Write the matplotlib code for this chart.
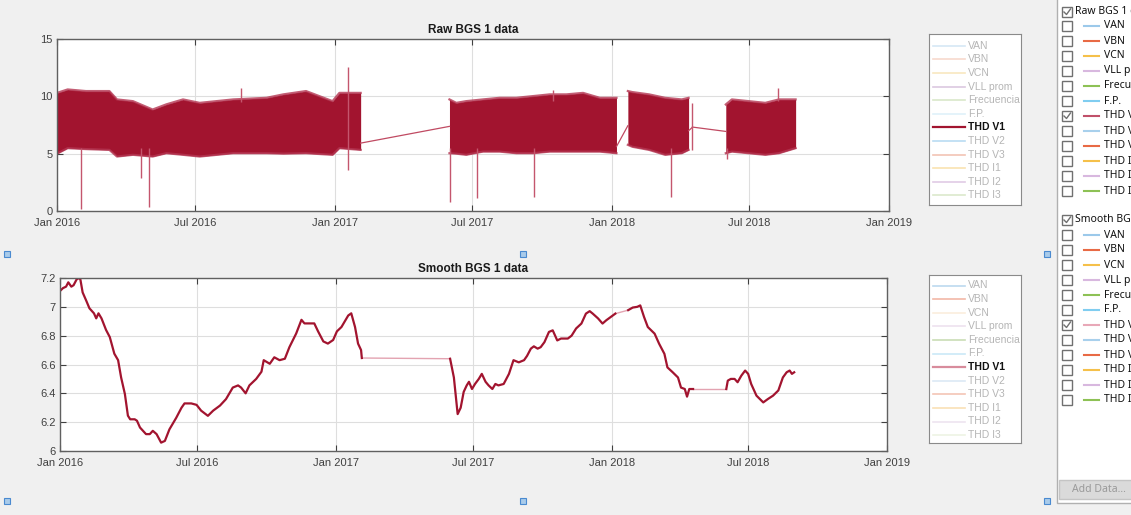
import numpy as np
import matplotlib.pyplot as plt
import matplotlib.dates as mdates
from matplotlib.patches import Rectangle

# ---- data ----
# raw THD V1: dense daily oscillation shown as its band (upper / lower envelope)
rawA_dates = ['2016-01-01', '2016-01-15', '2016-02-08', '2016-03-10', '2016-03-20', '2016-04-10',
              '2016-05-06', '2016-05-24', '2016-06-15', '2016-07-07', '2016-08-20', '2016-10-03',
              '2016-10-25', '2016-11-24', '2016-12-29', '2017-01-07', '2017-02-04']
rawA_up = [10.3, 10.6, 10.46, 10.46, 9.73, 9.58, 8.85, 9.3, 9.73, 9.43, 9.73, 9.87, 10.17, 10.46, 9.58, 10.3, 10.3]
rawA_lo = [5.0, 5.48, 5.4, 5.33, 4.75, 4.9, 4.75, 5.04, 4.9, 4.75, 5.04, 5.04, 5.0, 5.04, 4.9, 5.48, 5.33]

rawB_dates = ['2017-06-01', '2017-06-10', '2017-06-23', '2017-07-15', '2017-08-06', '2017-08-28',
              '2017-09-19', '2017-10-11', '2017-11-02', '2017-11-24', '2017-12-16', '2018-01-07']
rawB_up = [9.73, 9.43, 9.58, 9.73, 9.87, 9.87, 10.02, 10.17, 10.17, 10.3, 9.87, 9.87]
rawB_lo = [5.04, 5.0, 4.9, 5.18, 5.18, 5.04, 5.04, 5.18, 5.18, 5.18, 5.18, 5.04]

rawC_dates = ['2018-01-22', '2018-01-28', '2018-02-19', '2018-03-12', '2018-04-03', '2018-04-12']
rawC_up = [10.46, 10.37, 10.17, 9.87, 9.73, 9.87]
rawC_lo = [5.77, 5.6, 5.33, 4.9, 5.04, 5.33]

rawD_dates = ['2018-05-31', '2018-06-08', '2018-06-30', '2018-07-22', '2018-08-09', '2018-08-31']
rawD_up = [9.29, 9.73, 9.58, 9.43, 9.73, 9.73]
rawD_lo = [5.04, 5.18, 5.04, 4.9, 5.04, 5.48]

# straight interpolation lines across the gaps
raw_link_dates = ['2017-02-04', '2017-06-01', '2018-01-07', '2018-01-22', '2018-04-12', '2018-04-17',
                  '2018-04-17', '2018-05-31']
raw_link_vals = [5.92, 7.38, 5.62, 7.44, 7.0, 7.3, 7.32, 6.94]

# isolated spikes: date, low end, high end
spike_dates = ['2016-02-02', '2016-04-20', '2016-05-01', '2016-08-31', '2017-01-18', '2017-06-02',
               '2017-07-07', '2017-09-20', '2017-10-16', '2018-03-20', '2018-04-17', '2018-06-02',
               '2018-08-08']
spike_lo = [0.2, 2.84, 0.35, 9.5, 3.57, 0.79, 1.17, 1.23, 9.6, 1.23, 5.33, 4.5, 9.6]
spike_hi = [5.5, 5.5, 5.5, 10.7, 12.57, 5.5, 5.5, 5.5, 10.55, 5.5, 9.43, 5.5, 10.75]

# smoothed THD V1
sm1_dates = ['2016-01-01', '2016-01-05', '2016-01-09', '2016-01-12', '2016-01-16', '2016-01-19',
             '2016-01-23', '2016-01-26', '2016-01-28', '2016-01-31', '2016-02-05', '2016-02-09',
             '2016-02-15', '2016-02-18', '2016-02-21', '2016-02-25', '2016-03-02', '2016-03-07',
             '2016-03-13', '2016-03-18', '2016-03-22', '2016-03-27', '2016-03-31', '2016-04-03',
             '2016-04-09', '2016-04-12', '2016-04-16', '2016-04-24', '2016-04-29', '2016-05-03',
             '2016-05-08', '2016-05-14', '2016-05-19', '2016-05-25', '2016-06-03', '2016-06-10',
             '2016-06-14', '2016-06-23', '2016-06-30', '2016-07-06', '2016-07-15', '2016-07-22',
             '2016-07-31', '2016-08-08', '2016-08-17', '2016-08-24', '2016-08-28', '2016-09-03',
             '2016-09-08', '2016-09-17', '2016-09-24', '2016-09-27', '2016-10-05', '2016-10-11',
             '2016-10-18', '2016-10-25', '2016-10-31', '2016-11-09', '2016-11-16', '2016-11-20',
             '2016-11-29', '2016-12-03', '2016-12-08', '2016-12-15', '2016-12-21', '2016-12-28',
             '2017-01-02', '2017-01-08', '2017-01-17', '2017-01-21', '2017-01-26', '2017-01-30',
             '2017-02-03', '2017-02-04']
sm1_vals = [7.11, 7.13, 7.14, 7.17, 7.14, 7.15, 7.19, 7.2, 7.19, 7.10, 7.04, 6.99,
            6.955, 6.92, 6.955, 6.92, 6.84, 6.79, 6.675, 6.63, 6.51, 6.395, 6.245, 6.22,
            6.22, 6.21, 6.163, 6.117, 6.117, 6.14, 6.117, 6.058, 6.07, 6.15, 6.23, 6.30,
            6.33, 6.33, 6.32, 6.28, 6.244, 6.28, 6.315, 6.36, 6.44, 6.455, 6.44, 6.40,
            6.455, 6.50, 6.55, 6.63, 6.605, 6.65, 6.63, 6.64, 6.72, 6.815, 6.91, 6.885,
            6.885, 6.885, 6.83, 6.76, 6.745, 6.77, 6.83, 6.86, 6.94, 6.955, 6.86, 6.745,
            6.70, 6.645]

sm2_dates = ['2017-06-01', '2017-06-06', '2017-06-11', '2017-06-15', '2017-06-19', '2017-06-23',
             '2017-06-26', '2017-06-30', '2017-07-04', '2017-07-09', '2017-07-13', '2017-07-18',
             '2017-07-22', '2017-07-27', '2017-07-31', '2017-08-04', '2017-08-11', '2017-08-18',
             '2017-08-24', '2017-08-31', '2017-09-07', '2017-09-11', '2017-09-16', '2017-09-20',
             '2017-09-25', '2017-09-29', '2017-10-04', '2017-10-10', '2017-10-15', '2017-10-21',
             '2017-10-26', '2017-11-04', '2017-11-09', '2017-11-15', '2017-11-22', '2017-11-28',
             '2017-12-03', '2017-12-07', '2017-12-14', '2017-12-20', '2017-12-25', '2017-12-31',
             '2018-01-06']
sm2_vals = [6.64, 6.51, 6.256, 6.30, 6.41, 6.455, 6.48, 6.43, 6.465, 6.50, 6.535, 6.48,
            6.455, 6.43, 6.465, 6.455, 6.465, 6.535, 6.63, 6.615, 6.63, 6.66, 6.71, 6.726,
            6.71, 6.72, 6.755, 6.826, 6.837, 6.767, 6.78, 6.78, 6.80, 6.85, 6.884, 6.953,
            6.97, 6.953, 6.92, 6.884, 6.907, 6.93, 6.953]

sm3_dates = ['2018-01-23', '2018-01-29', '2018-02-04', '2018-02-08', '2018-02-13', '2018-02-18',
             '2018-02-27', '2018-03-05', '2018-03-12', '2018-03-16', '2018-03-23', '2018-03-30',
             '2018-04-03', '2018-04-08', '2018-04-11', '2018-04-14', '2018-04-19']
sm3_vals = [6.977, 6.995, 7.0, 7.01, 6.93, 6.86, 6.814, 6.744, 6.674, 6.58, 6.546, 6.51,
            6.44, 6.43, 6.377, 6.43, 6.43]

sm4_dates = ['2018-06-02', '2018-06-04', '2018-06-08', '2018-06-13', '2018-06-17', '2018-06-22',
             '2018-06-27', '2018-07-01', '2018-07-05', '2018-07-12', '2018-07-21', '2018-07-27',
             '2018-08-03', '2018-08-10', '2018-08-16', '2018-08-21', '2018-08-25', '2018-08-28',
             '2018-08-31']
sm4_vals = [6.43, 6.488, 6.50, 6.50, 6.477, 6.523, 6.558, 6.535, 6.465, 6.384, 6.337, 6.36,
            6.384, 6.42, 6.51, 6.546, 6.558, 6.535, 6.546]

series_names = ['VAN', 'VBN', 'VCN', 'VLL prom', 'Frecuencia', 'F.P.',
                'THD V1', 'THD V2', 'THD V3', 'THD I1', 'THD I2', 'THD I3']
legend_top_colors = ['#d6e8f5', '#f7d9cd', '#f8e7c0', '#dcc8e0', '#d9e8c9', '#dff1fa',
                     '#a2142f', '#b9dcf2', '#f2c4b4', '#fae3b0', '#e0cbe5', '#dbe9cc']
legend_bot_colors = ['#bcd9ef', '#f2b8a7', '#fbeedd', '#ede2ef', '#c9ddb5', '#cbe9f7',
                     '#d88c9c', '#dce9f5', '#f4c5b5', '#fae0b5', '#eee4f0', '#eef4e4']
panel_colors = ['#9cc9ea', '#e86a45', '#f5c04a', '#d8b8df', '#8dc155', '#80cdf0',
                '#c0506a', '#a8d0ec', '#e86a45', '#f5c04a', '#d8b8df', '#8dc155']
panel_colors2 = panel_colors[:6] + ['#e8a8b8'] + panel_colors[7:]

RED = '#a2142f'
BG = '#f0f0f0'
W, H = 1131, 515

plt.rcParams['font.family'] = ['Liberation Sans', 'DejaVu Sans']

def d(lst):
    return np.array(lst, dtype='datetime64[D]')

fig = plt.figure(figsize=(W / 100, H / 100), dpi=100, facecolor=BG)

def pix_axes(x0, y0, x1, y1, **kw):
    return fig.add_axes([x0 / W, 1 - y1 / H, (x1 - x0) / W, (y1 - y0) / H], **kw)

def style_axes(ax, ylim, yticks, ylabels, title):
    ax.set_xlim(np.datetime64('2016-01-01'), np.datetime64('2019-01-01'))
    ax.set_ylim(*ylim)
    ax.set_yticks(yticks)
    ax.set_yticklabels(ylabels)
    xt = d(['2016-01-01', '2016-07-01', '2017-01-01', '2017-07-01', '2018-01-01', '2018-07-01', '2019-01-01'])
    ax.set_xticks(xt)
    ax.xaxis.set_major_formatter(mdates.DateFormatter('%b %Y'))
    ax.grid(color='#dedede', linewidth=0.8)
    ax.set_axisbelow(True)
    ax.tick_params(direction='in', top=True, right=True, length=4, width=0.8,
                   labelsize=8, colors='#404040', pad=3)
    ax.tick_params(axis='x', pad=5)
    for s in ax.spines.values():
        s.set_color('#606060')
        s.set_linewidth(1.0)
    ax.set_title(title, fontsize=8.5, fontweight='bold', color='#1a1a1a', pad=4)

# ---- raw panel ----
ax1 = pix_axes(57, 39, 889, 211)
for dates, up, lo in [(rawA_dates, rawA_up, rawA_lo), (rawB_dates, rawB_up, rawB_lo),
                      (rawC_dates, rawC_up, rawC_lo), (rawD_dates, rawD_up, rawD_lo)]:
    dd = d(dates)
    ax1.fill_between(dd, lo, up, color=RED, linewidth=0)
    # fuzzy edges of the oscillation band
    ax1.plot(dd, up, color='#b43652', linewidth=1.6, alpha=0.8)
    ax1.plot(dd, lo, color='#b43652', linewidth=1.6, alpha=0.8)
lk = d(raw_link_dates)
for i in range(0, len(lk), 2):
    ax1.plot(lk[i:i + 2], raw_link_vals[i:i + 2], color='#c04a62', linewidth=0.9)
ax1.vlines(d(spike_dates), spike_lo, spike_hi, color='#c4566d', linewidth=1.0)
style_axes(ax1, (0, 15), [0, 5, 10, 15], ['0', '5', '10', '15'], 'Raw BGS 1 data')

# ---- smooth panel ----
ax2 = pix_axes(60, 278, 887, 451)
segs = [(sm1_dates, sm1_vals), (sm2_dates, sm2_vals), (sm3_dates, sm3_vals), (sm4_dates, sm4_vals)]
for k in range(len(segs) - 1):
    a, b = segs[k], segs[k + 1]
    ax2.plot(d([a[0][-1], b[0][0]]), [a[1][-1], b[1][0]], color='#e3a3b1', linewidth=1.0)
for dates, vals in segs:
    ax2.plot(d(dates), vals, color=RED, linewidth=1.6)
style_axes(ax2, (6, 7.2), [6, 6.2, 6.4, 6.6, 6.8, 7, 7.2],
           ['6', '6.2', '6.4', '6.6', '6.8', '7', '7.2'], 'Smooth BGS 1 data')

# ---- legends ----
def draw_legend(y0, y1, first, colors):
    lg = pix_axes(929, y0, 1021, y1)
    lg.set_xlim(0, 92)
    lg.set_ylim(y1 - y0, 0)
    lg.set_xticks([])
    lg.set_yticks([])
    for s in lg.spines.values():
        s.set_color('#8a8a8a')
    for i, (name, c) in enumerate(zip(series_names, colors)):
        y = first + 13.6 * i
        active = name == 'THD V1'
        lg.plot([4, 36], [y, y], color=c, linewidth=1.6 if active else 1.2)
        lg.text(39, y, name, fontsize=7.5, va='center', ha='left',
                color='#111111' if active else '#b5b5b5',
                fontweight='bold' if active else 'normal')

draw_legend(34, 205, 11.7, legend_top_colors)
draw_legend(275, 443, 10.5, legend_bot_colors)

# ---- overlay: side panel and selection handles ----
ov = fig.add_axes([0, 0, 1, 1])
ov.set_xlim(0, W)
ov.set_ylim(H, 0)
ov.axis('off')
ov.add_patch(Rectangle((1057, -2), 80, 505, facecolor='white', edgecolor='#b0b0b0', linewidth=1))

def check_row(y, checked, text, color=None, tx=1104):
    ov.add_patch(Rectangle((1062, y - 5), 10, 10, facecolor='white', edgecolor='#707070', linewidth=1))
    if checked:
        ov.plot([1064, 1066.5, 1070.5], [y, y + 2.5, y - 3], color='#707070', linewidth=1)
    if color is not None:
        ov.plot([1084, 1099], [y, y], color=color, linewidth=1.5)
    ov.text(tx, y, text, fontsize=7.5, va='center', ha='left', color='#111111',
            family=['Noto Sans', 'DejaVu Sans'])

check_row(12, True, 'Raw BGS 1 data', tx=1075)
for i, (name, c) in enumerate(zip(series_names, panel_colors)):
    check_row(26 + 15 * i, name == 'THD V1', name, c)
check_row(220, True, 'Smooth BGS 1 data', tx=1075)
for i, (name, c) in enumerate(zip(series_names, panel_colors2)):
    check_row(235 + 15 * i, name == 'THD V1', name, c)

ov.add_patch(Rectangle((1059, 480), 74, 19, facecolor='#dadada', edgecolor='#c4c4c4', linewidth=1))
ov.text(1072, 490, 'Add Data...', fontsize=7.5, va='center', ha='left', color='#9a9a9a',
        family=['Noto Sans', 'DejaVu Sans'])

for hx, hy in [(7, 254), (523, 254), (1047, 254), (7, 501), (523, 501), (1047, 501)]:
    ov.add_patch(Rectangle((hx - 3, hy - 3), 6, 6, facecolor='#a9cbea', edgecolor='#4a8ad0', linewidth=0.8))

fig.savefig('out.png', dpi=100, facecolor=BG)
